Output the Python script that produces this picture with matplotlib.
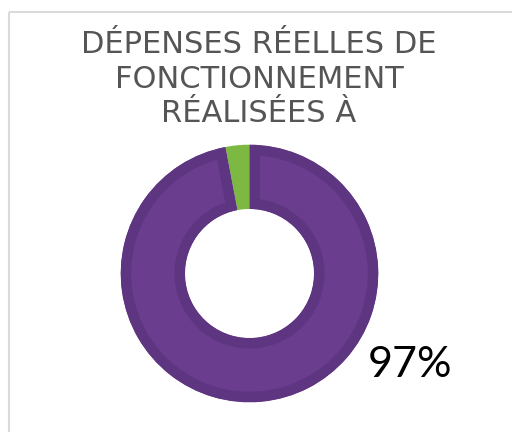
import matplotlib
matplotlib.use("Agg")
import matplotlib.pyplot as plt

# Data
categories = ["Non réalisé", "Réalisé"]
values = [3, 97]
colors = ["#7DB843", "#6A3D8E"]
edge_dark = "#5E3581"
title_lines = ["DÉPENSES RÉELLES DE", "FONCTIONNEMENT", "RÉALISÉES À"]
label_text = f"{values[1]}%"

W, H = 512, 432
fig = plt.figure(figsize=(W / 100, H / 100), dpi=100)
ax = fig.add_axes([0, 0, 1, 1])

cx, cy = 249.5, H - 273.5
R = 128.8
width = 64.3

wedges, _ = ax.pie(values, colors=colors, startangle=90, counterclock=True,
                   center=(cx, cy), radius=R,
                   wedgeprops=dict(width=width, linewidth=0))
ax.set_xlim(0, W)
ax.set_ylim(0, H)
ax.set_aspect("auto")
ax.axis("off")

# darker inner border on purple slice (stroke clipped to the wedge itself)
w = wedges[1]
w.set_edgecolor(edge_dark)
w.set_linewidth(21 * 72 / 100)
w.set_clip_on(True)
w.set_clip_path(w.get_path(), ax.transData)

# frame lines
ax.plot([9, W], [H - 11.5, H - 11.5], color="#DADADA", lw=1.5, solid_capstyle="butt")
ax.plot([9, 9], [H - 11.5, 0], color="#DADADA", lw=1.5, solid_capstyle="butt")

fam = ["DejaVu Sans"]
baselines = [53, 88, 122]
for t, b in zip(title_lines, baselines):
    ax.text(259, H - b, t, ha="center", va="baseline", fontsize=22,
            color="#555555", family=fam)

ax.text(368, H - 377, label_text, ha="left", va="baseline", fontsize=31,
        color="#000000", family=["Lato", "DejaVu Sans"])

fig.savefig("out.png", dpi=100)
